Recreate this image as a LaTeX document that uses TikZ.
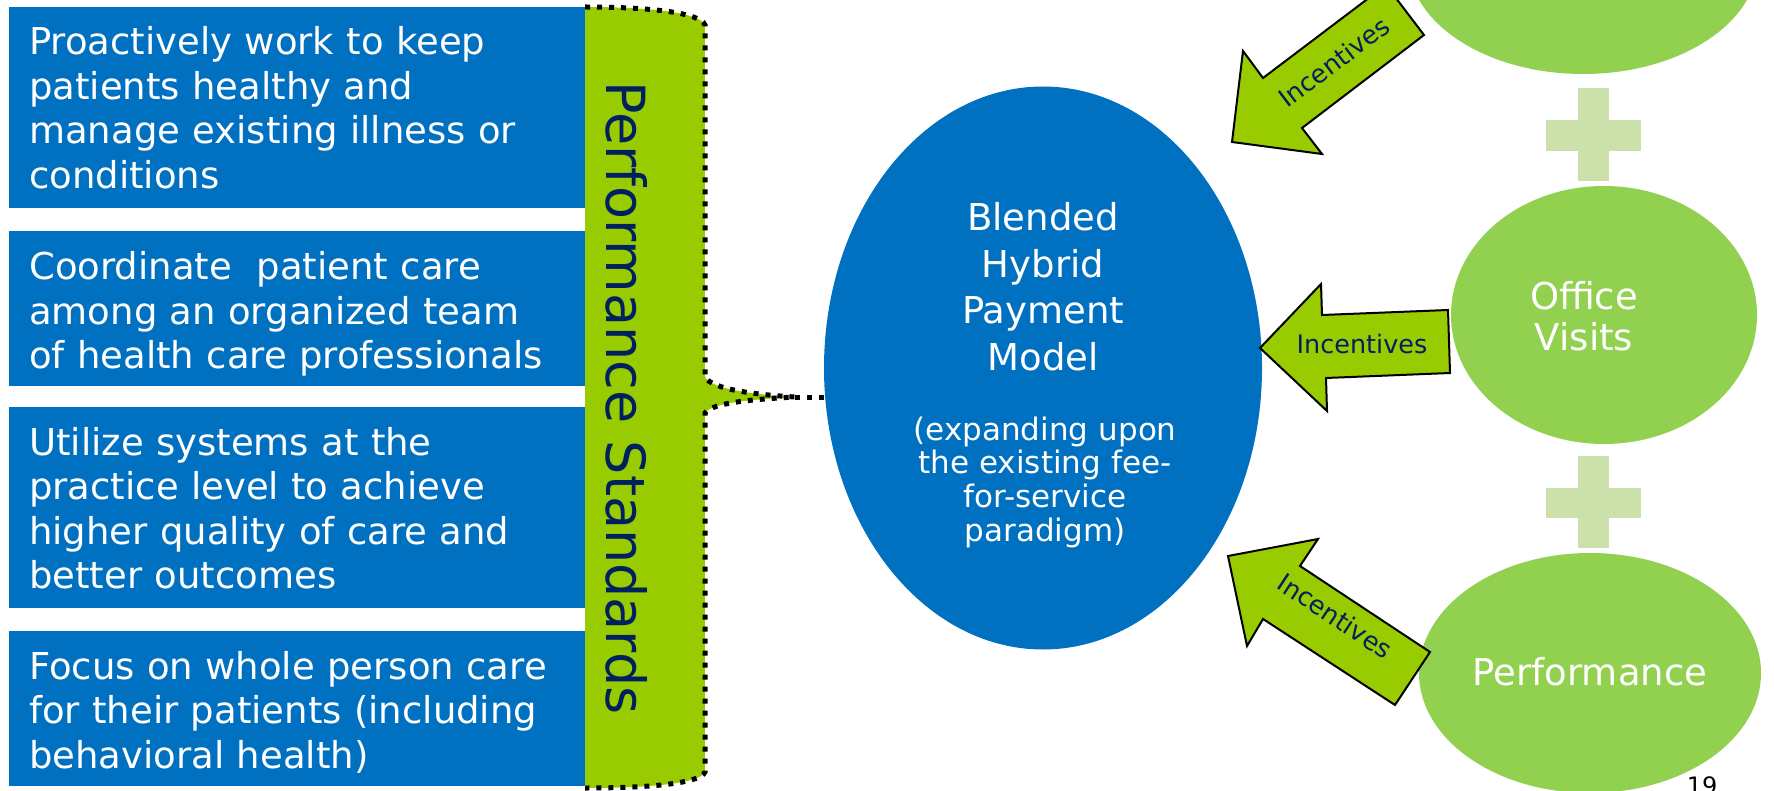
\documentclass[tikz,border=0pt]{standalone}
\usepackage{fontspec}
\setmainfont{DejaVu Sans}
\usetikzlibrary{shapes.geometric}
\definecolor{boxblue}{HTML}{0070C0}
\definecolor{bracegreen}{HTML}{99CC00}
\definecolor{ovalgreen}{HTML}{92D050}
\definecolor{pluscol}{HTML}{CCE0AC}
\definecolor{navy}{HTML}{002060}
\begin{document}
\begin{tikzpicture}[x=1pt,y=-1pt,
  bluebox/.style={fill=boxblue, draw=none},
  boxtext/.style={anchor=base west, text=white, align=left, text width=560pt, inner sep=0pt, font=\fontsize{37}{44.5}\selectfont},
  dotline/.style={draw=black, line width=5pt, dash pattern=on 5pt off 7pt},
  arrowshape/.style={fill=bracegreen, draw=black, line width=2pt, line join=miter},
  inclabel/.style={text=navy, inner sep=0pt, font=\fontsize{25.5}{30}\selectfont},
  oval/.style={ellipse, fill=ovalgreen, draw=none, inner sep=0pt},
  ovaltext/.style={text=white, align=center, text width=300pt, inner sep=0pt, font=\fontsize{37}{40}\selectfont},
  plusbar/.style={fill=pluscol, draw=none}
]
\useasboundingbox (0,0) rectangle (1774,791);
\clip (0,0) rectangle (1774,791);

% left blue boxes
\fill[bluebox] (9,7) rectangle (585,208);
\fill[bluebox] (9,231) rectangle (585,386);
\fill[bluebox] (9,407) rectangle (585,608);
\fill[bluebox] (9,631) rectangle (585,786);

\node[boxtext] (t1) at (29,55) {Proactively work to keep\\patients healthy and\\manage existing illness or\\conditions};
\node[boxtext] (t2) at (29,280) {Coordinate~ patient care\\among an organized team\\of health care professionals};
\node[boxtext] (t3) at (29,455) {Utilize systems at the\\practice level to achieve\\higher quality of care and\\better outcomes};
\node[boxtext] (t4) at (29,679) {Focus on whole person care\\for their patients (including\\behavioral health)};

% brace
\coordinate (bt) at (795,397);
\fill[bracegreen] (585,7) .. controls (645,7) and (700,12) .. (705,25) -- (705,377)
  .. controls (712,390) and (760,395) .. (bt) .. controls (760,399) and (712,402) .. (705,413)
  -- (705,772) .. controls (700,784) and (645,788) .. (585,788) -- cycle;
\draw[dotline] (585,7) .. controls (645,7) and (700,12) .. (705,25) -- (705,377)
  .. controls (712,390) and (760,395) .. (bt) .. controls (760,399) and (712,402) .. (705,413)
  -- (705,772) .. controls (700,784) and (645,788) .. (585,788);
\node[rotate=-90, anchor=base, text=navy, inner sep=0pt, font=\fontsize{54}{60}\selectfont] (ps) at (606,398) {Performance Standards};

% central ellipse
\node[ellipse, fill=boxblue, draw=none, minimum width=438pt, minimum height=563pt, inner sep=0pt] (blended) at (1043,368) {};
\draw[dotline] (bt) -- (bt -| blended.west);
\node[anchor=base, text=white, align=center, text width=400pt, inner sep=0pt, font=\fontsize{37}{46.5}\selectfont] (bltitle) at (1043,231) {Blended\\Hybrid\\Payment\\Model};
\node[anchor=base, text=white, align=center, text width=400pt, inner sep=0pt, font=\fontsize{31}{33.8}\selectfont] (blsub) at (1045,440) {(expanding upon\\the existing fee-\\for-service\\paradigm)};

% right ovals
\node[oval, minimum width=350pt, minimum height=228pt] (top) at (1583,-40) {};
\node[oval, minimum width=306pt, minimum height=258pt] (office) at (1604,315) {};
\node[ovaltext, anchor=base] (officet) at (1584,310) {Office\\Visits};
\node[oval, minimum width=342pt, minimum height=240pt] (perf) at (1590,673) {};
\node[ovaltext, anchor=base] (perft) at (1590,685) {Performance};

% plus signs
\fill[plusbar] (1578,88) rectangle (1609,181);
\fill[plusbar] (1546,120) rectangle (1641,151);
\fill[plusbar] (1578,456) rectangle (1609,548);
\fill[plusbar] (1546,488) rectangle (1641,518);

% incentive arrows
\draw[arrowshape] (1232,142) -- (1243,51) -- (1263,78) -- (1386,-15) -- (1424,35) -- (1302,128) -- (1322,154) -- cycle;
\node[inclabel, rotate=37] (inc1) at (1334,62) {Incentives};
\draw[arrowshape] (1260,348) -- (1321,284) -- (1322,315) -- (1448,310) -- (1450,373) -- (1326,378) -- (1327,411) -- cycle;
\node[inclabel] (inc2) at (1362,344) {Incentives};
\draw[arrowshape] (1228,556) -- (1318,539) -- (1300,566) -- (1430,652) -- (1395,705) -- (1263,619) -- (1247,646) -- cycle;
\node[inclabel, rotate=-33.5] (inc3) at (1335,616) {Incentives};

% page number
\node[anchor=base, inner sep=0pt, font=\fontsize{24}{28}\selectfont] (pg) at (1702,794) {19};
\end{tikzpicture}
\end{document}
